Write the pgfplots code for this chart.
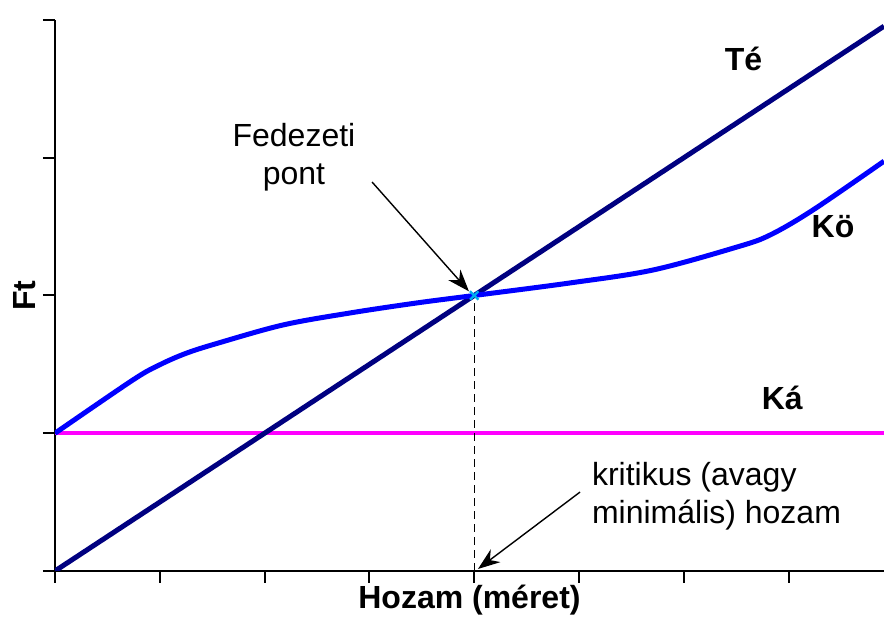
\documentclass[border=0pt]{standalone}
\usepackage{fontspec}
\setmainfont{Liberation Sans}
\usepackage{pgfplots}
\pgfplotsset{compat=1.18}
\usetikzlibrary{arrows.meta,calc}
\definecolor{tecol}{HTML}{000080}
\definecolor{kocol}{HTML}{0000FF}
\definecolor{kacol}{HTML}{FF00FF}
\begin{document}
\begin{tikzpicture}
\begin{axis}[
  width=414.5pt, height=275.5pt, scale only axis,
  xmin=0, xmax=7.91, ymin=0, ymax=4,
  axis lines*=left,
  axis line style={line width=1pt, black},
  xtick={0,...,7}, ytick={0,...,4},
  xticklabels={}, yticklabels={},
  tick align=outside, major tick length=6pt,
  tick style={line width=1pt, black},
  xlabel={Hozam (méret)}, ylabel={Ft},
  label style={font=\fontsize{16}{19}\selectfont\bfseries},
  xlabel style={at={(axis description cs:0.5,-0.0526)}, anchor=center},
  ylabel style={at={(axis description cs:-0.0362,0.5)}, anchor=center},
]
\coordinate (bl) at (rel axis cs:0,0);
\coordinate (tr) at (rel axis cs:1,1);
% Ká
\addplot[kacol, line width=2pt] coordinates {(0,1) (7.91,1)};
% Té
\addplot[tecol, line width=2.5pt] coordinates {(0,0) (7.91,3.955)};
% Kö
\addplot[kocol, line width=2.5pt, smooth, tension=0.55] coordinates {
 (0,1.0) (0.744,1.387) (1.0,1.497) (1.25,1.580) (1.546,1.652) (2.176,1.786)
 (2.815,1.873) (3.454,1.946) (4.0,2.0) (4.914,2.091) (5.706,2.185)
 (6.508,2.352) (6.823,2.439) (7.233,2.621) (7.91,2.975)};
% dashed line
\addplot[black, line width=0.7pt, dash pattern=on 4pt off 2.5pt] coordinates {(4,0) (4,2)};
% breakeven marker
\addplot[cyan, only marks, mark=x, mark size=3pt, line width=1.2pt] coordinates {(4,2)};
% arrows
\draw[-{Stealth[length=11pt,width=8pt]}, line width=0.7pt] (axis cs:3.025,2.824) -- (axis cs:3.95,2.03);
\draw[-{Stealth[length=11pt,width=8pt]}, line width=0.7pt] (axis cs:5.01,0.573) -- (axis cs:4.036,0.0145);
% texts
\node[align=center, font=\fontsize{16}{19}\selectfont] at (axis cs:2.28,3.005) {Fedezeti\\pont};
\node[align=left, anchor=west, font=\fontsize{16}{19}\selectfont] at (axis cs:5.057,0.544) {kritikus (avagy\\minimális) hozam};
\node[font=\fontsize{16}{19}\selectfont\bfseries] at (axis cs:6.57,3.717) {Té};
\node[font=\fontsize{16}{19}\selectfont\bfseries] at (axis cs:7.424,2.497) {Kö};
\node[font=\fontsize{16}{19}\selectfont\bfseries] at (axis cs:6.94,1.256) {Ká};
\end{axis}
\pgfresetboundingbox
\path ($(bl)+(-27.5pt,-23pt)$) rectangle ($(tr)+(0pt,10pt)$);
\end{tikzpicture}
\end{document}
